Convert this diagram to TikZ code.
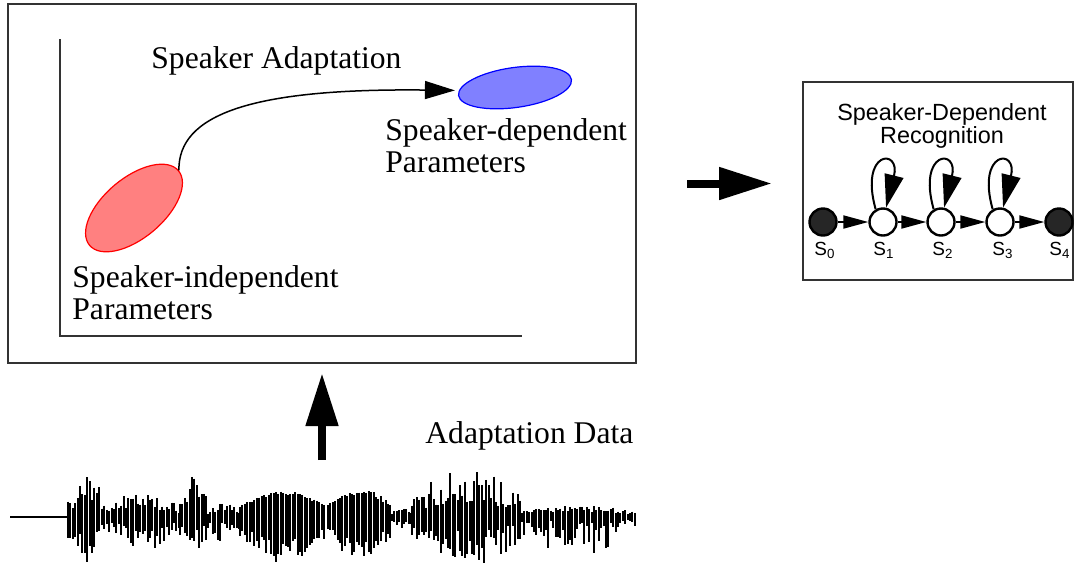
\documentclass[tikz,border=0pt]{standalone}
\usepackage{fontspec}
\setmainfont{Liberation Serif}
\setsansfont{Liberation Sans}
\usetikzlibrary{positioning, arrows.meta, shapes.geometric, calc}

\begin{document}
\begin{tikzpicture}[
    x=0.5pt, y=0.5pt,
    panel/.style={rectangle, draw=black!80, line width=1pt, inner sep=0pt},
    lbl/.style={font=\fontsize{15.8}{15.8}\selectfont, align=left, inner sep=0pt},
    param/.style={ellipse, line width=0.6pt, inner sep=0pt},
    state/.style={circle, draw, line width=1.2pt, fill=white, minimum size=13.5pt, inner sep=0pt},
    endstate/.style={state, fill=black!85},
    slbl/.style={font=\sffamily\fontsize{9.5}{10}\selectfont, inner sep=0pt},
    bigarrow/.style={line width=4pt, -{Triangle[length=26.5pt, width=15.5pt]}},
    curvearrow/.style={line width=0.75pt, -{Triangle[length=15pt, width=9pt]}},
    steparrow/.style={line width=1pt, -{Triangle[length=12.5pt, width=6.5pt]}},
    looparrow/.style={line width=1pt, -{Triangle[length=16.5pt, width=9.5pt]}},
    wave/.style={line width=0.95pt}
]
    \useasboundingbox (0,0) rectangle (1074,-569);

    % Adaptation panel
    \node[panel, minimum width=314pt, minimum height=179.5pt] (adaptbox) at (322,-183.5) {};
    \draw[line width=1pt, black!80] (60,-39) -- (60,-336) -- (522,-336);
    \node[param, draw=red, fill=red!50, minimum width=58pt, minimum height=30pt, rotate=40] (sipar) at (134,-208) {};
    \node[param, draw=blue, fill=blue!50, minimum width=57pt, minimum height=20pt, rotate=8] (sdpar) at (515,-87.5) {};
    \node[lbl, anchor=base west] (adaptlbl) at (151,-68) {Speaker Adaptation};
    \node[lbl, anchor=base west] (sdlbl) at (385,-172) {Speaker-dependent\\Parameters};
    \node[lbl, anchor=base west] (silbl) at (72,-319) {Speaker-independent\\Parameters};
    \draw[curvearrow, shorten >=2pt] (sipar.east) .. controls (178,-115) and (250,-88) .. (sdpar.175);

    % Recognition panel
    \node[panel, minimum width=135pt, minimum height=99pt] (recbox) at (938,-181) {};
    \node[font=\sffamily\fontsize{11.7}{11.2}\selectfont, align=center] (rectitle) at (942,-126) {Speaker-Dependent\\Recognition};
    \node[endstate] (s0) at (823,-222) {};
    \foreach \i/\x in {1/883, 2/941, 3/1000}
        \node[state] (s\i) at (\x,-222) {};
    \node[endstate] (s4) at (1059,-222) {};
    \foreach \i/\x in {0/825, 1/884, 2/943, 3/1003, 4/1060}
        \node[slbl] (l\i) at (\x,-250) {S\textsubscript{\i}};
    \foreach \a/\b in {s0/s1, s1/s2, s2/s3, s3/s4}
        \draw[steparrow] (\a) -- (\b);
    \foreach \i in {1,2,3}
        \draw[looparrow] (s\i.120) .. controls ($(s\i)+(-24,72)$) and ($(s\i)+(18,74)$) .. (s\i.78);

    % Data
    \node[lbl, anchor=base west] (datalbl) at (425,-443) {Adaptation Data};
    \coordinate (datasrc) at (322,-460);
    \draw[bigarrow, shorten >=4.5pt] (datasrc) -- (datasrc |- adaptbox.south);
    \draw[bigarrow, shorten <=25pt, shorten >=15pt] (adaptbox.east) -- (adaptbox.east -| recbox.west);

    % Waveform
    \pgfmathsetseed{11}
    \draw[wave] (10,-517) -- (68,-517);
    \foreach \xa/\xb/\ampu/\ampd/\ampc in {68/102/46/48/12, 102/180/26/36/8, 180/208/42/46/12,
        208/240/14/26/6, 240/326/26/46/22, 328/392/28/44/22, 392/412/9/14/5,
        412/522/48/50/14, 522/635/12/38/5}{
        \pgfmathtruncatemacro{\nn}{(\xb-\xa)/2.4}
        \foreach \i in {0,...,\nn}{
            \pgfmathsetmacro{\xx}{\xa+2.4*\i}
            \pgfmathsetmacro{\env}{0.45+0.55*sin(180*\i/(\nn+1))}
            \pgfmathsetmacro{\uu}{\env*(\ampc+(\ampu-\ampc)*rnd)}
            \pgfmathsetmacro{\dd}{\env*(\ampc+(\ampd-\ampc)*rnd)}
            \draw[wave] (\xx,-517+\uu) -- (\xx,-517-\dd);
        }
    }
\end{tikzpicture}
\end{document}
